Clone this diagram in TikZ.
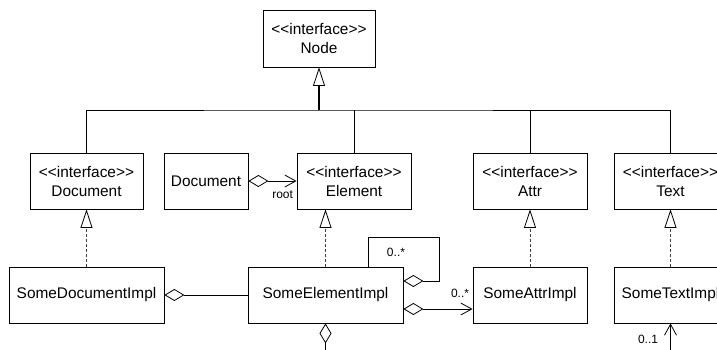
\documentclass[tikz,border=0pt]{standalone}
\usepackage{fontspec}
\newfontfamily\umlfont{Liberation Sans}
\usetikzlibrary{arrows.meta}
\tikzset{
  cls/.style={draw, line width=0.8pt, minimum height=56pt, inner sep=0pt, align=center,
    font=\umlfont\fontsize{15.4}{19}\selectfont},
  lbl/.style={inner sep=0pt, font=\umlfont\fontsize{12}{14}\selectfont},
  conn/.style={line width=0.8pt},
  gentip/.tip={Triangle[open, length=18.5pt, width=12pt, line width=0.8pt]},
  diatip/.tip={Diamond[open, length=20pt, width=12pt, line width=0.8pt]},
  veetip/.tip={Straight Barb[length=11pt, width=12pt, line width=0.8pt]},
  realiz/.style={conn, black!75, dash pattern=on 3pt off 2pt, -{gentip[black]}},
}
\begin{document}
\begin{tikzpicture}[x=1pt,y=-1pt]
\useasboundingbox (0,0) rectangle (717,350);
\clip (0,0) rectangle (717,350);
% classes
\node[cls, minimum width=112pt, minimum height=57pt] (node) at (319,38.5) {<<interface>>\\Node};
\node[cls, minimum width=113pt] (idoc) at (86.5,181) {<<interface>>\\Document};
\node[cls, minimum width=84pt] (doc) at (206,181) {Document};
\node[cls, minimum width=114pt] (elem) at (354,181) {<<interface>>\\Element};
\node[cls, minimum width=114pt] (attr) at (530,181) {<<interface>>\\Attr};
\node[cls, minimum width=113pt] (text) at (670.5,181) {<<interface>>\\Text};
\node[cls, minimum width=155pt] (sdi) at (86.5,295) {SomeDocumentImpl};
\node[cls, minimum width=155pt] (sei) at (325.5,295) {SomeElementImpl};
\node[cls, minimum width=114pt] (sai) at (530,295) {SomeAttrImpl};
\node[cls, minimum width=113pt] (sti) at (670.5,295) {SomeTextImpl};
% generalization tree
\coordinate (bus) at (319,110);
\draw[conn] (idoc.north) |- (bus) -| (text.north);
\draw[conn] (elem.north) -- (elem.north |- bus);
\draw[conn] (attr.north) -- (attr.north |- bus);
\draw[line width=1.8pt, -{gentip}] (bus) -- (node.south);
% realizations
\draw[realiz] (sdi.north) -- (idoc.south);
\draw[realiz] (sei.north) -- (sei.north |- elem.south);
\draw[realiz] (sai.north) -- (attr.south);
\draw[realiz] (sti.north) -- (text.south);
% associations
\draw[conn, {diatip}-{veetip}] (doc.east) -- (elem.west);
\path (elem.west) ++(-14,14) node[lbl] (rootlbl) {root};
\draw[conn, {diatip}-] (sdi.east) -- (sei.west);
\coordinate (seibelow) at (325.5,360);
\draw[conn, {diatip}-] (sei.south) -- (seibelow);
\draw[conn, -{diatip}] ([xshift=42.5pt]sei.north) -- ++(0,-29) -- ++(71,0) |- ([yshift=14pt]sei.east);
\node[lbl] (selflbl) at (396,252) {0..*};
\draw[conn, {diatip}-{veetip}] ([yshift=-14pt]sei.east) -- ([yshift=-14pt]sai.west);
\node[lbl] (attrlbl) at (460,293) {0..*};
\coordinate (stibelow) at (670.5,360);
\draw[conn, -{veetip}] (stibelow) -- (sti.south);
\node[lbl] (textlbl) at (648,339) {0..1};
\end{tikzpicture}
\end{document}
